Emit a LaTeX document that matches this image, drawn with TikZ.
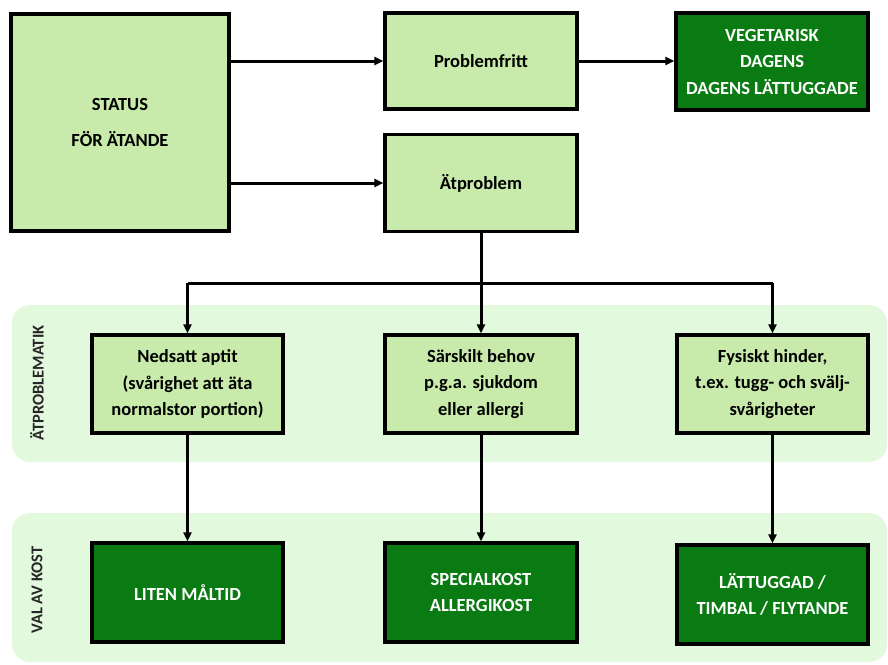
\documentclass[tikz,border=0pt]{standalone}
\usepackage{fontspec}
\setmainfont{Carlito}
\usetikzlibrary{arrows.meta,calc}
\definecolor{lightbox}{HTML}{C8EAAA}
\definecolor{darkbox}{HTML}{0A7A12}
\definecolor{bandbg}{HTML}{E3F9DD}
\tikzset{
  box/.style={draw=black,line width=3.4pt,align=center,inner sep=2pt,
    font=\fontsize{18.5}{26.5}\selectfont\bfseries},
  lbox/.style={box,fill=lightbox,text=black},
  dbox/.style={box,fill=darkbox,text=white},
  band/.style={fill=bandbg,draw=none,rounded corners=18pt},
  bandlabel/.style={rotate=90,font=\fontsize{16.5}{18}\selectfont\bfseries,text=black!85},
  arr/.style={line width=3pt,-{Triangle[length=9pt,width=8pt]}},
  ln/.style={line width=3pt}
}
\begin{document}
\begin{tikzpicture}[x=1pt,y=-1pt]
\useasboundingbox (0,0) rectangle (888,664);
% bands
\path[band] (12,305) rectangle (887,462);
\path[band] (12,513) rectangle (887,662);
\node[bandlabel] (lab1) at (37,383) {ÄTPROBLEMATIK};
\node[bandlabel] (lab2) at (37,590) {VAL AV KOST};
% top row
\node[lbox,minimum width=218pt,minimum height=217pt] (status) at (120,122.5) {STATUS\\[9pt]FÖR ÄTANDE};
\node[lbox,minimum width=192pt,minimum height=96pt] (probf) at (481,61) {Problemfritt};
\node[lbox,minimum width=192pt,minimum height=97pt] (atp) at (481,183) {Ätproblem};
\node[dbox,minimum width=192pt,minimum height=97pt] (veg) at (772,61.5) {VEGETARISK\\DAGENS\\DAGENS LÄTTUGGADE};
% middle row
\node[lbox,minimum width=191pt,minimum height=98pt] (ned) at (187.5,384) {Nedsatt aptit\\(svårighet att äta\\normalstor portion)};
\node[lbox,minimum width=192pt,minimum height=98pt] (sar) at (481,384) {Särskilt behov\\p.g.a. sjukdom\\eller allergi};
\node[lbox,minimum width=191pt,minimum height=98pt] (fys) at (772.5,384) {Fysiskt hinder,\\t.ex. tugg- och svälj-\\svårigheter};
% bottom row
\node[dbox,minimum width=191pt,minimum height=99pt] (lit) at (187.5,592.5) {LITEN MÅLTID};
\node[dbox,minimum width=192pt,minimum height=99pt] (spec) at (481,592.5) {SPECIALKOST\\ALLERGIKOST};
\node[dbox,minimum width=191pt,minimum height=99pt] (latt) at (772.5,594.5) {LÄTTUGGAD /\\TIMBAL / FLYTANDE};
% connectors
\draw[arr] (status.east |- probf.west) -- (probf.west);
\draw[arr] (status.east |- atp.west) -- (atp.west);
\draw[arr] (probf.east) -- (probf.east -| veg.west);
\coordinate (j) at (481,283);
\draw[ln] (atp.south) -- (j);
\draw[ln] (ned.north |- j) -- (fys.north |- j);
\draw[arr] (ned.north |- j) -- (ned.north);
\draw[arr] (j) -- (sar.north);
\draw[arr] (fys.north |- j) -- (fys.north);
\draw[arr] (ned.south) -- (lit.north);
\draw[arr] (sar.south) -- (spec.north);
\draw[arr] (fys.south) -- (latt.north);
\end{tikzpicture}
\end{document}
